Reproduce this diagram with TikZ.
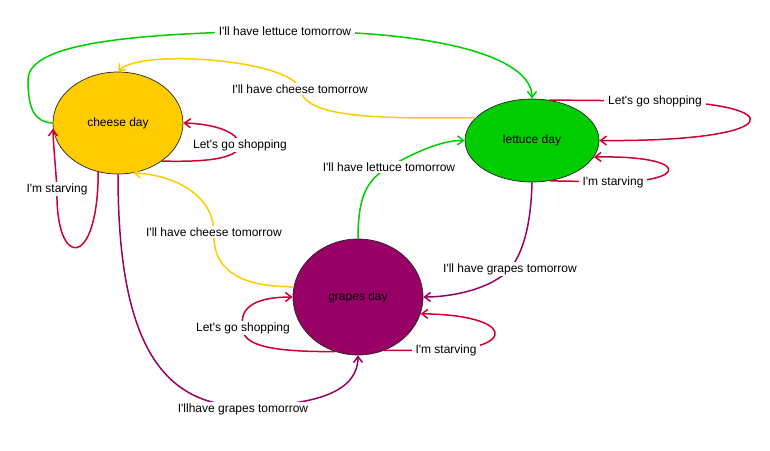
\documentclass[tikz,border=0pt]{standalone}
\usepackage{fontspec}
\setmainfont{Liberation Sans}[Ligatures=TeXOff]
\usetikzlibrary{shapes.geometric, arrows.meta}
\definecolor{cheeseyellow}{HTML}{FFCC00}
\definecolor{lettucegreen}{HTML}{00CC00}
\definecolor{grapespurple}{HTML}{990066}
\definecolor{loopred}{HTML}{CC0033}

\begin{document}
\begin{tikzpicture}[
  x=1pt, y=-1pt,
  >={Straight Barb[length=6pt,width=9pt]},
  day/.style={ellipse, draw=black!85, line width=0.7pt, inner sep=0pt, font=\fontsize{12}{14}\selectfont},
  trans/.style={->, line width=1.5pt},
  lbl/.style={fill=white, text=black, inner xsep=4pt, inner ysep=1.5pt, font=\fontsize{12}{14}\selectfont}
]
  \useasboundingbox (0,0) rectangle (770,450);
  \node[day, fill=cheeseyellow, minimum width=130pt, minimum height=102pt] (cheese) at (118,123) {cheese day};
  \node[day, fill=lettucegreen, minimum width=134pt, minimum height=83pt] (lettuce) at (532,140.5) {lettuce day};
  \node[day, fill=grapespurple, minimum width=130pt, minimum height=116pt] (grapes) at (358,297) {grapes day};
  % to lettuce
  \draw[trans, lettucegreen] (cheese.west) .. controls (35,122) and (28,110) .. (28,80) .. controls (28,45) and (120,33) .. (285,31) node[lbl] (lt1) {I'll have lettuce tomorrow} .. controls (450,31) and (532,60) .. (lettuce.north);
  \draw[trans, lettucegreen] (grapes.north) .. controls (358,200) and (365,180) .. (389,167) node[lbl] (lt2) {I'll have lettuce tomorrow} .. controls (410,155) and (440,140) .. (lettuce.west);
  % to cheese
  \draw[trans, cheeseyellow] (lettuce.158) .. controls (370,119) and (305,117) .. (300,89) node[lbl] (lc1) {I'll have cheese tomorrow} .. controls (292,60) and (140,48) .. (cheese.north);
  \draw[trans, cheeseyellow] (grapes.171) .. controls (240,287) and (212,270) .. (214,232) node[lbl] (lc2) {I'll have cheese tomorrow} .. controls (213,195) and (175,175) .. (cheese.-73);
  % to grapes
  \draw[trans, grapespurple] (lettuce.south) .. controls (531,220) and (525,250) .. (510,269) node[lbl] (lg1) {I'll have grapes tomorrow} .. controls (490,290) and (450,297) .. (grapes.east);
  \draw[trans, grapespurple] (cheese.south) .. controls (118,320) and (150,405) .. (243,406) node[lbl, yshift=-3pt] (lg2) {I'llhave grapes tomorrow} .. controls (320,406) and (358,390) .. (grapes.south);
  % self loops
  \draw[trans, loopred] (cheese.-41) .. controls (200,162) and (238,160) .. (240,145) node[lbl] (cs) {Let's go shopping} .. controls (238,132) and (215,124) .. (cheese.east);
  \draw[trans, loopred] (cheese.-112) .. controls (98,270) and (55,270) .. (57,189) node[lbl] (cst) {I'm starving} .. controls (55,160) and (53,140) .. (cheese.185);
  \draw[trans, loopred] (lettuce.67) -- (655,101) node[lbl] (ls) {Let's go shopping} .. controls (790,103) and (790,142) .. (lettuce.east);
  \draw[trans, loopred] (lettuce.-66) -- (613,182) node[lbl] (lst) {I'm starving} .. controls (690,182) and (690,155) .. (lettuce.-15);
  \draw[trans, loopred] (grapes.-113) .. controls (270,352) and (242,345) .. (243,328) node[lbl] (gs) {Let's go shopping} .. controls (238,305) and (260,297) .. (grapes.west);
  \draw[trans, loopred] (grapes.-64) -- (446,350) node[lbl] (gst) {I'm starving} .. controls (515,348) and (515,315) .. (grapes.-15);
\end{tikzpicture}
\end{document}
